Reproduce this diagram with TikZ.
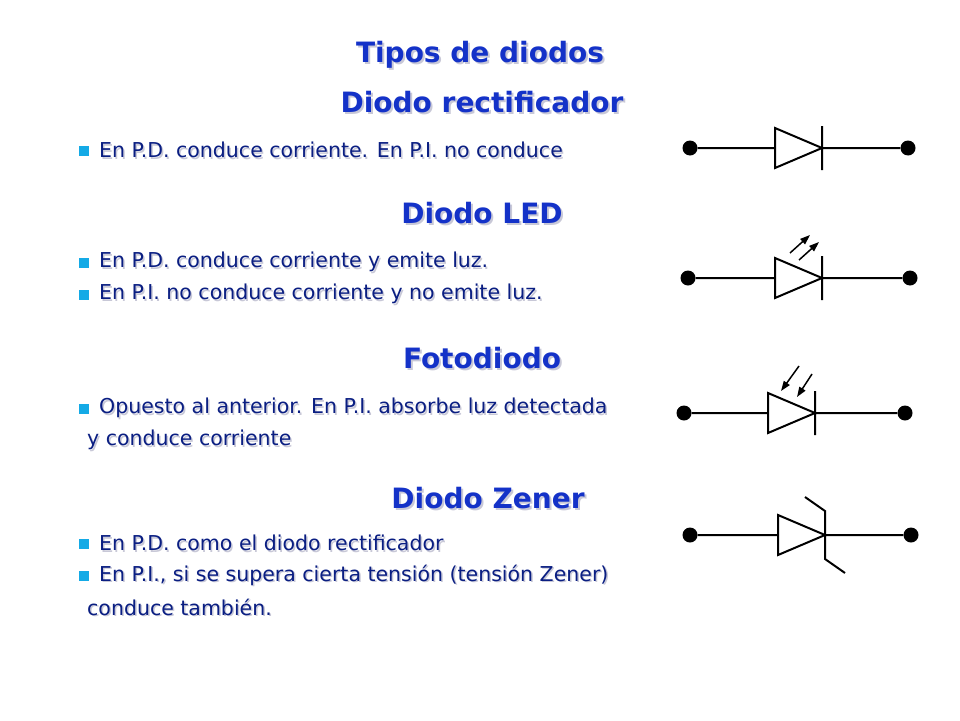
\documentclass[tikz,border=0pt]{standalone}
\usepackage{fontspec}
\setmainfont{DejaVu Sans}
\definecolor{head}{RGB}{20,50,200}
\definecolor{txt}{RGB}{10,30,130}
\definecolor{bul}{RGB}{20,170,230}
\definecolor{shad}{RGB}{200,200,215}
\usetikzlibrary{arrows.meta}
\begin{document}
\begin{tikzpicture}[x=1pt,y=-1pt,
 hd/.style={font=\fontsize{28}{30}\selectfont\bfseries,text=head},
 bt/.style={font=\fontsize{20.5}{22}\selectfont,text=txt,anchor=west,inner sep=0},
 wire/.style={line width=2pt},
 dot/.style={circle,fill=black,inner sep=0,minimum size=15pt},
 ray/.style={line width=1.5pt,-{Triangle[length=10pt,width=7pt]}}]
\useasboundingbox (0,0) rectangle (960,720);
\newcommand{\hdg}[3]{\node[hd,text=shad] at (#1+2,#2+2) {#3};\node[hd] at (#1,#2) {#3};}
\newcommand{\btx}[3]{\node[bt,text=shad] at (#1+1.5,#2+1.5) {#3};\node[bt] at (#1,#2) {#3};}
\newcommand{\bull}[2]{\fill[bul] (#1-5,#2-5) rectangle (#1+5,#2+5);}
\hdg{480}{55}{Tipos de diodos}
\hdg{482}{102}{Diodo rectificador}
\hdg{482}{213}{Diodo LED}
\hdg{482}{358}{Fotodiodo}
\hdg{488}{498}{Diodo Zener}
\bull{84}{151}\btx{99}{150}{En P.D. conduce corriente. En P.I. no conduce}
\bull{84}{263}\btx{99}{262}{En P.D. conduce corriente y emite luz.}
\bull{84}{295}\btx{99}{294}{En P.I. no conduce corriente y no emite luz.}
\bull{84}{409}\btx{99}{408}{Opuesto al anterior. En P.I. absorbe luz detectada}
\btx{87}{440}{y conduce corriente}
\bull{84}{544}\btx{99}{543}{En P.D. como el diodo rectificador}
\bull{84}{576}\btx{99}{575}{En P.I., si se supera cierta tensión (tensión Zener)}
\btx{87}{607}{conduce también.}
% rectificador
\node[dot] (a1) at (690,148) {}; \node[dot] (b1) at (908,148) {};
\draw[wire] (a1)--(775,148) (775,128)--(822,148)--(775,168)--cycle (822,126)--(822,170) (822,148)--(b1);
% LED
\node[dot] (a2) at (688,278) {}; \node[dot] (b2) at (910,278) {};
\draw[wire] (a2)--(775,278) (775,258)--(822,278)--(775,298)--cycle (822,256)--(822,300) (822,278)--(b2);
\draw[ray] (790,253)--(810,235); \draw[ray] (799,260)--(819,242);
% Foto
\node[dot] (a3) at (684,413) {}; \node[dot] (b3) at (905,413) {};
\draw[wire] (a3)--(768,413) (768,393)--(815,413)--(768,433)--cycle (815,391)--(815,435) (815,413)--(b3);
\draw[ray] (799,366)--(781,391); \draw[ray] (812,374)--(797,397);
% Zener
\node[dot] (a4) at (690,535) {}; \node[dot] (b4) at (911,535) {};
\draw[wire] (a4)--(778,535) (778,515)--(825,535)--(778,555)--cycle (805,497)--(825,511)--(825,559)--(845,573) (825,535)--(b4);
\end{tikzpicture}
\end{document}
